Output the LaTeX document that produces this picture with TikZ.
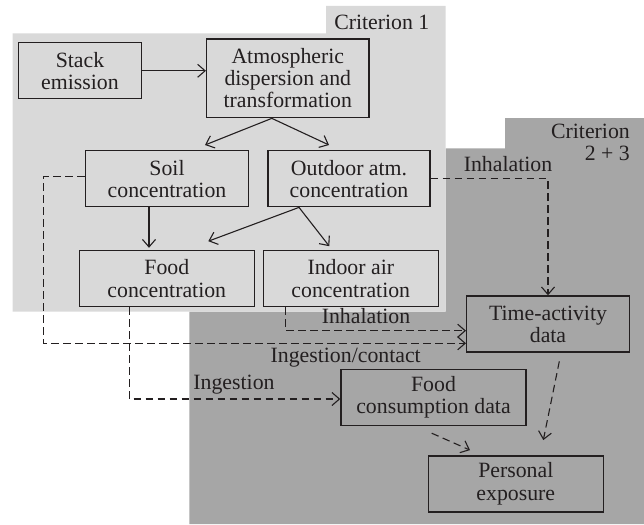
\documentclass[tikz,border=0pt]{standalone}
\usepackage{fontspec}
\setmainfont{Liberation Serif}
\usetikzlibrary{arrows.meta}
\definecolor{critone}{HTML}{D9D9D9}
\definecolor{crittwo}{HTML}{A6A6A6}
\definecolor{ink}{HTML}{231F20}
\tikzset{
  box/.style={draw=ink,line width=1.4pt,align=center,minimum height=56pt,inner sep=0pt,text=ink,font=\fontsize{21.8}{22.2}\selectfont},
  lbl/.style={text=ink,font=\fontsize{21.8}{22.2}\selectfont,inner sep=0pt},
  flow/.style={draw=ink,line width=1.1pt,-{Straight Barb[length=7.5pt,width=13pt]}},
  pathway/.style={flow,dash pattern=on 7.5pt off 4.5pt}
}
\begin{document}
\begin{tikzpicture}[x=1pt,y=-1pt]
\useasboundingbox (0,0) rectangle (644,524);
\fill[crittwo] (505,118) -- (644,118) -- (644,524) -- (189.3,524) -- (189.3,311.7) -- (445.7,311.7) -- (445.7,148.3) -- (505,148.3) -- cycle;
\fill[critone] (12.7,33.3) -- (326,33.3) -- (326,6) -- (445.7,6) -- (445.7,311.7) -- (12.7,311.7) -- cycle;
\node[box,minimum width=123.4pt] (stack) at (80,70.8) {Stack\\emission};
\node[box,minimum width=162.3pt,minimum height=78.7pt] (atmos) at (287.8,78.3) {Atmospheric\\dispersion and\\transformation};
\node[box,minimum width=163pt] (soil) at (167,178.7) {Soil\\concentration};
\node[box,minimum width=162pt] (outdoor) at (349,178.7) {Outdoor atm.\\concentration};
\node[box,minimum width=175pt] (food) at (166.8,278.5) {Food\\concentration};
\node[box,minimum width=175pt] (indoor) at (350.8,278.5) {Indoor air\\concentration};
\node[box,minimum width=162.6pt] (time) at (548,324) {Time-activity\\data};
\node[box,minimum width=185pt] (foodcons) at (433.5,397.5) {Food\\consumption data};
\node[box,minimum width=175pt] (personal) at (515.8,483.8) {Personal\\exposure};
\node[lbl,anchor=base] (critA) at (381.8,29.3) {Criterion 1};
\node[lbl,anchor=north east,align=right] (critB) at (630,124) {Criterion\\2 + 3};
\node[lbl,anchor=base] (inhalA) at (508,171.7) {Inhalation};
\node[lbl,anchor=base] (inhalB) at (366,323.3) {Inhalation};
\node[lbl,anchor=base] (ingestA) at (345.7,362) {Ingestion/contact};
\node[lbl,anchor=base] (ingestB) at (234,389) {Ingestion};
\draw[flow] (stack.east) -- (stack.east -| atmos.west);
\draw[flow] ([xshift=-16pt]atmos.south) -- ([xshift=38pt,yshift=5pt]soil.north);
\draw[flow] ([xshift=-16pt]atmos.south) -- ([xshift=-20pt,yshift=5pt]outdoor.north);
\draw[flow] ([xshift=-18pt]soil.south) -- ([xshift=-17.8pt,yshift=2pt]food.north);
\draw[flow] ([xshift=-50pt]outdoor.south) -- ([xshift=41.5pt,yshift=8.6pt]food.north);
\draw[flow] ([xshift=-50pt]outdoor.south) -- ([xshift=-21.5pt,yshift=3.6pt]indoor.north);
\coordinate (soilbend) at (43.3,343.3);
\draw[pathway] ([yshift=2pt]soil.west) -| (soilbend) -- (soilbend -| time.west);
\draw[pathway] ([xshift=-65pt]indoor.south) |- ([yshift=-6.7pt]time.west);
\draw[pathway] (outdoor.east) -| (time.north);
\draw[pathway] ([xshift=-37.5pt]food.south) |- ([yshift=-1.5pt]foodcons.west);
\draw[pathway] ([xshift=-1.8pt,yshift=-7pt]foodcons.south) -- ([xshift=-45.8pt,yshift=5pt]personal.north);
\draw[pathway] ([xshift=11.3pt,yshift=-8.7pt]time.south) -- ([xshift=27.5pt,yshift=15pt]personal.north);
\end{tikzpicture}
\end{document}
